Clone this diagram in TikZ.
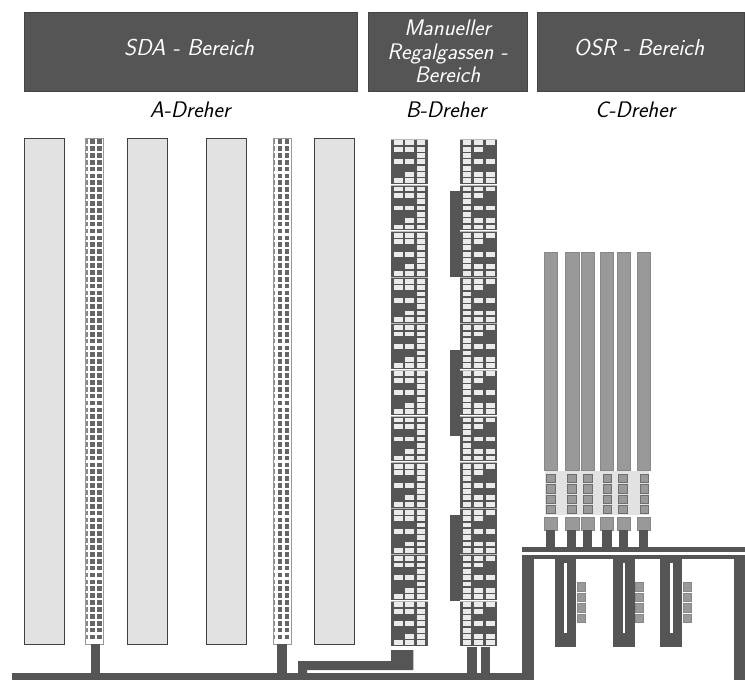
\documentclass[tikz,border=0pt]{standalone}
\usepackage{xcolor}
\usetikzlibrary{positioning}
\definecolor{darkgr}{HTML}{555555}
\definecolor{midgr}{HTML}{999999}
\definecolor{lightgr}{HTML}{E2E2E2}

\begin{document}
\begin{tikzpicture}[x=1pt, y=-1pt]
    % Define styles
    \tikzset{
        area/.style={rectangle, draw=darkgr!80!black, fill=darkgr, line width=0.6pt, text=white, align=center, inner sep=0pt,
            minimum height=79pt, font=\fontsize{22.5}{23.5}\selectfont\sffamily\slshape},
        areatext/.style={text=white, inner sep=0pt, font=\fontsize{23}{23.5}\selectfont\sffamily\slshape},
        dreher/.style={font=\fontsize{22.5}{24}\selectfont\sffamily\slshape, text=black, inner sep=0pt},
        track/.style={fill=darkgr, draw=none},
        rack/.style={fill=lightgr, draw=black!75, line width=0.7pt},
        slot/.style={fill=white!92!black, draw=none},
        osrbar/.style={fill=midgr, draw=darkgr!70, line width=0.4pt},
        smallbox/.style={fill=midgr, draw=darkgr!85, line width=0.5pt}
    }
    \useasboundingbox (0,0) rectangle (745,680);

    % Areas
    \node[area, minimum width=333pt] (sda) at (190.5,51.5) {};
    \node[areatext] (sdatext) at (189,48) {SDA - Bereich};
    \node[area, minimum width=159pt] (manual) at (447.5,51.5) {Manueller\\Regalgassen -\\Bereich};
    \node[area, minimum width=207pt] (osr) at (640.5,51.5) {};
    \node[areatext] (osrtext) at (639,48) {OSR - Bereich};

    % Labels
    \node[dreher] (dreherA) at (190,110) {A-Dreher};
    \node[dreher] (dreherB) at (446,110) {B-Dreher};
    \node[dreher] (dreherC) at (635,110) {C-Dreher};

    % SDA racks
    \foreach \x in {24,127,206,314}
        \draw[rack] (\x,138) rectangle ++(40.5,506);

    % SDA shuttle aisles
    \foreach \x in {85,272.5} {
        \fill[white] (\x,138) rectangle ++(19,506);
        \draw[midgr, line width=0.8pt] (\x+0.5,138) -- ++(0,506) -- ++(18,0) -- ++(0,-506) -- cycle;
        \foreach \r in {0,...,72} {
            \fill[darkgr!90] (\x+5.2,139.2+\r*6.88) rectangle ++(4.7,4.7);
            \fill[darkgr!90] (\x+12.2,139.2+\r*6.88) rectangle ++(4.7,4.7);
            \fill[darkgr!70] (\x+1,139.2+\r*6.88) rectangle ++(1.5,4.7);
        }
    }
    \fill[track] (90.5,644) rectangle (99.5,673);
    \fill[track] (277,644) rectangle (286.5,673);

    % Manual aisle modules
    \foreach \m in {0,...,10} {
        % left column
        \fill[darkgr] (390.7,139+\m*46.2) rectangle ++(37.6,45.2);
        \draw[midgr!70, line width=0.8pt] (390.7,139+\m*46.2) -- ++(37.6,0);
        \foreach \c/\r in {0/0,1/0,2/0,0/1,1/1,2/1,2/2,0/3,1/3,2/3,2/4,1/5,2/5,0/6,1/6,2/6}
            \fill[slot] (390.7+3.3+\c*11.35,139+\m*46.2+1.4+\r*6.33) rectangle ++(8.7,4.8);
        % right column
        \fill[darkgr] (460,139+\m*46.2) rectangle ++(37.3,45.2);
        \draw[midgr!70, line width=0.8pt] (460,139+\m*46.2) -- ++(37.3,0);
        \foreach \c/\r in {0/0,1/0,2/0,0/1,1/1,0/2,0/3,1/3,2/3,0/4,0/5,1/5,2/5,0/6,1/6,2/6}
            \fill[slot] (460+2.7+\c*11.6,139+\m*46.2+1.4+\r*6.33) rectangle ++(8.7,4.8);
    }

    % Side bars
    \foreach \y in {191,350,515}
        \fill[track] (450,\y) rectangle ++(10,86);

    % Manual aisle connections
    \fill[track] (391,650) -- (413.3,650) -- (413.3,670) -- (307,670) -- (307,673) -- (298,673) -- (298,661) -- (391,661) -- cycle;
    \fill[track] (467.3,647) rectangle (476.7,673);
    \fill[track] (480.7,647) rectangle (490,673);

    % Main conveyor
    \fill[track] (11.5,672.7) rectangle (534.3,680);
    \fill[track] (522.3,555) rectangle (534.3,680);
    \fill[track] (734.3,555) rectangle (745,680);
    \fill[track] (522.3,547.3) rectangle (745,552.3);
    \fill[track] (522.3,555) rectangle (745,559);

    % OSR bars
    \foreach \x in {544,565.3,581,600,617,637}
        \draw[osrbar] (\x,252) rectangle ++(13.5,218);

    % OSR panel
    \fill[lightgr] (545,471) rectangle (649.3,515);
    \foreach \x/\s/\q in {544/546/550.7,565.3/567/571.7,581/583/587.7,600/602.3/607,617/619/622.7,637/639/644} {
        \draw[osrbar] (\x,516.7) rectangle ++(13.5,13.3);
        \fill[track] (\s,530) rectangle ++(9.3,17.5);
        \foreach \y in {478.3,488.6,499,509.3}
            \draw[smallbox] (\q-4.2,\y-4.2) rectangle ++(8.4,8.4);
    }

    % Forks with slit and boxes
    \foreach \x in {554.7,613,660.3} {
        \fill[track] (\x,559) rectangle ++(21.5,87.7);
        \fill[white] (\x+9.5,563.3) rectangle ++(2.7,69.4);
    }
    \foreach \x in {577,635,683}
        \foreach \y in {582.7,593.2,603.7,614.2}
            \fill[midgr, draw=darkgr!70, line width=0.5pt] (\x,\y) rectangle ++(8.7,8.2);
\end{tikzpicture}
\end{document}
